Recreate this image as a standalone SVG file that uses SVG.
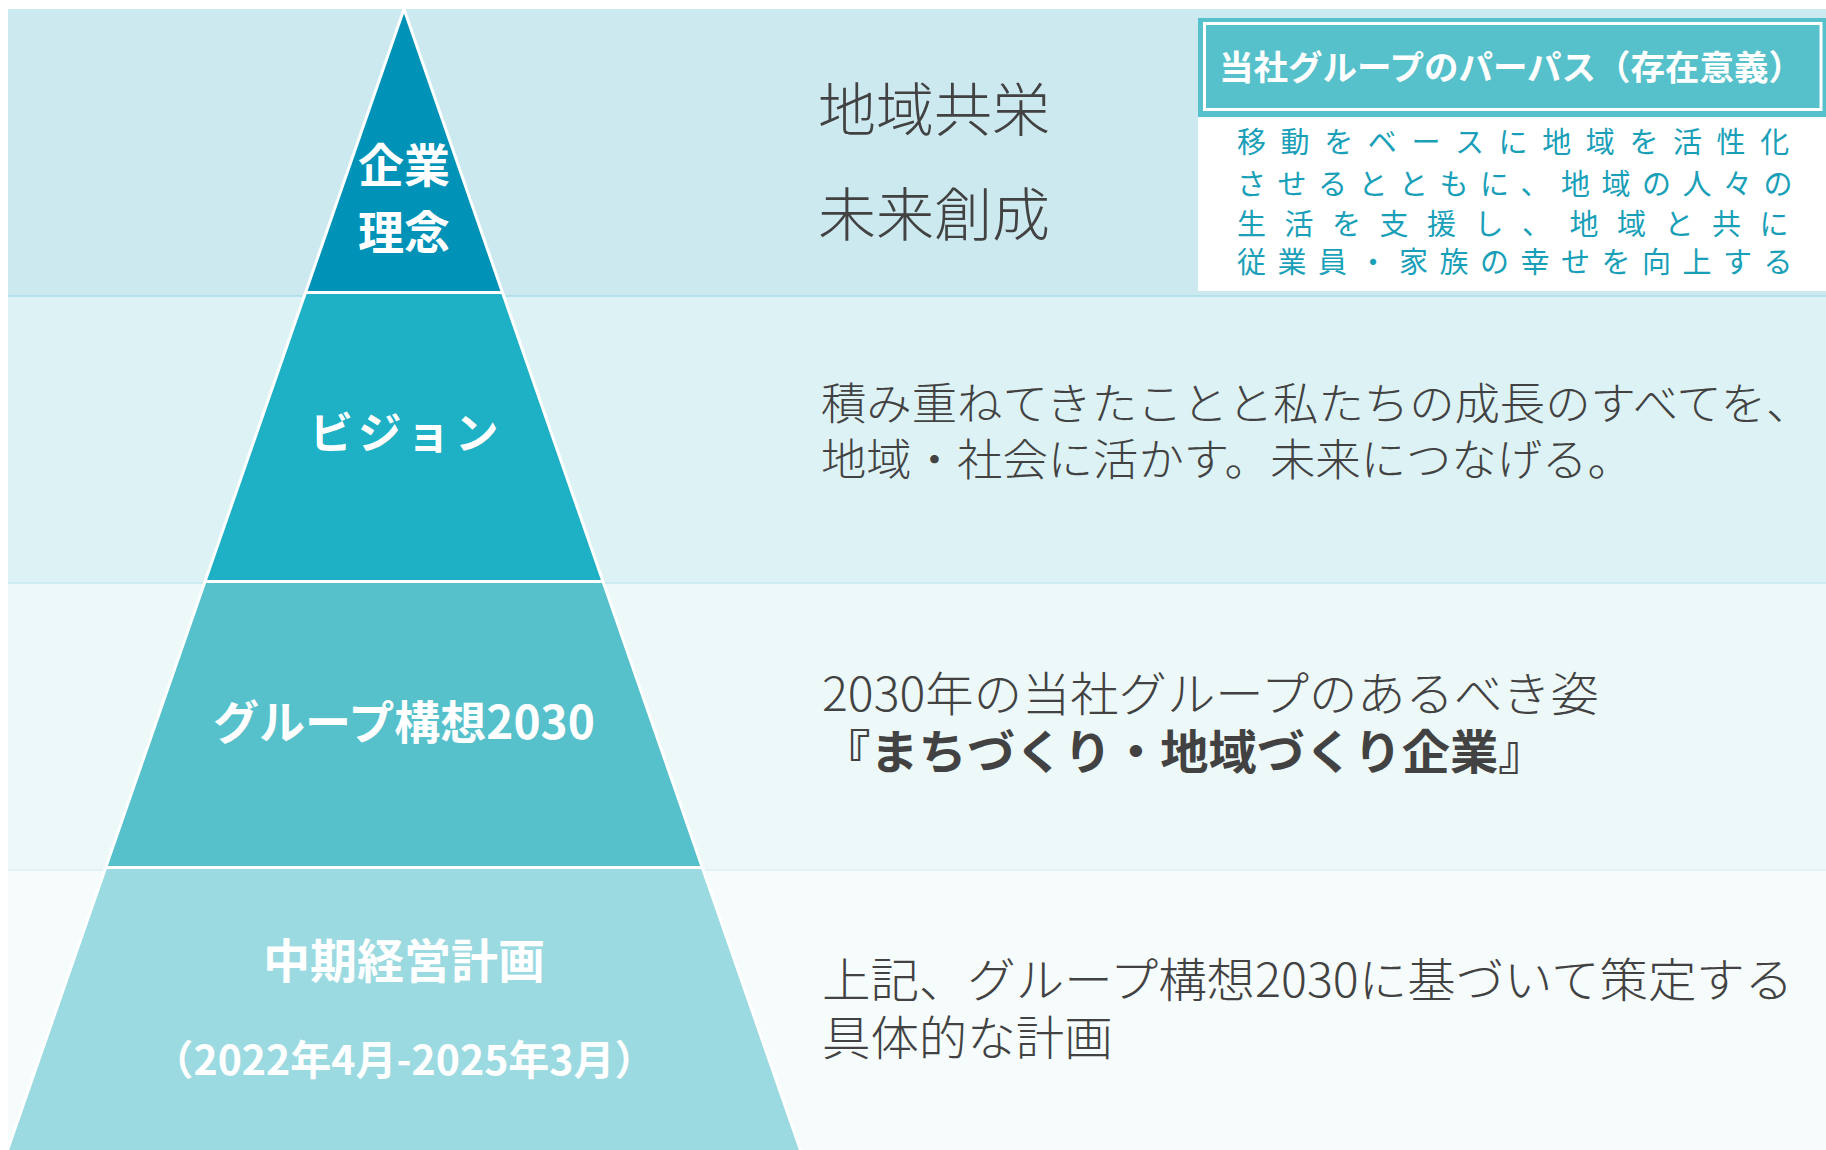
<svg xmlns="http://www.w3.org/2000/svg" width="1826" height="1150" viewBox="0 0 1826 1150">
<style>
.jp{font-family:"Noto Sans CJK JP","Noto Sans",sans-serif}
.lbl{fill:#ffffff;font-weight:700;text-anchor:middle}
.txt{fill:#424242;font-weight:300}
.pur{fill:#1a9fb8;font-size:29px;font-weight:400}
.tier{stroke:#ffffff;stroke-width:3;stroke-linejoin:round}
.sep{stroke-width:1.5}
</style>
<rect width="1826" height="1150" fill="#ffffff"/>
<g id="bands">
<rect x="8" y="9" width="1818" height="287" fill="#cce9ef"/>
<rect x="8" y="296" width="1818" height="287" fill="#ddf2f5"/>
<rect x="8" y="583" width="1818" height="287" fill="#edf8f9"/>
<rect x="8" y="870" width="1818" height="280" fill="#f6fbfc"/>
<line class="sep" x1="8" y1="296" x2="1826" y2="296" stroke="#a9dcea"/>
<line class="sep" x1="8" y1="583" x2="1826" y2="583" stroke="#c4e8ef"/>
<line class="sep" x1="8" y1="870" x2="1826" y2="870" stroke="#dcf0f4"/>
</g>
<g id="tier-1">
<polygon class="tier" points="404,9 502.5,292.5 305.5,292.5" fill="#0092b7"/>
<text class="jp lbl" x="404" y="182" font-size="46">企業</text>
<text class="jp lbl" x="404" y="249" font-size="46">理念</text>
</g>
<g id="tier-2">
<polygon class="tier" points="305.5,292.5 502.5,292.5 603,581.5 205,581.5" fill="#1eb0c4"/>
<text class="jp lbl" x="406.5" y="449" font-size="43.5" letter-spacing="5">ビジョン</text>
</g>
<g id="tier-3">
<polygon class="tier" points="205,581.5 603,581.5 702.3,867.5 105.7,867.5" fill="#57c1cb"/>
<text class="jp lbl" x="404" y="739" font-size="46">グループ構想2030</text>
</g>
<g id="tier-4">
<polygon class="tier" points="105.7,867.5 702.3,867.5 801.5,1153 6.5,1153" fill="#9bdae1"/>
<text class="jp lbl" x="404" y="978" font-size="47">中期経営計画</text>
<text class="jp lbl" x="404" y="1075" font-size="41">（2022年4月-2025年3月）</text>
</g>
<g id="row-1-text">
<text class="jp txt" x="818" y="131" font-size="58">地域共栄</text>
<text class="jp txt" x="818" y="236" font-size="58">未来創成</text>
</g>
<g id="purpose-box">
<rect x="1198" y="18" width="628" height="99" fill="#57c1cb"/>
<rect x="1204.5" y="23.5" width="616.5" height="86" fill="none" stroke="#ffffff" stroke-width="3"/>
<rect x="1198" y="117" width="628" height="174" fill="#ffffff"/>
<text class="jp" x="1219" y="80" font-size="34.5" font-weight="700" fill="#ffffff">当社グループのパーパス（存在意義）</text>
<text class="jp pur" x="1237 1280.6 1324.2 1367.8 1411.4 1455 1498.6 1542.2 1585.8 1629.4 1673 1716.6 1760.2" y="153">移動をベースに地域を活性化</text>
<text class="jp pur" x="1237 1277.5 1318 1358.5 1399 1439.5 1480 1520.5 1561 1601.5 1642 1682.5 1723 1763.5" y="195">させるとともに、地域の人々の</text>
<text class="jp pur" x="1237 1284.5 1332 1379.5 1427 1474.5 1522 1569.5 1617 1664.5 1712 1759.5" y="235">生活を支援し、地域と共に</text>
<text class="jp pur" x="1237 1277.5 1318 1358.5 1399 1439.5 1480 1520.5 1561 1601.5 1642 1682.5 1723 1763.5" y="273">従業員・家族の幸せを向上する</text>
</g>
<g id="row-2-text" transform="translate(821,0) scale(1.031,1) translate(-821,0)">
<text class="jp txt" x="821" y="420" font-size="44">積み重ねてきたことと私たちの成長のすべてを、</text>
<text class="jp txt" x="821" y="476" font-size="44">地域・社会に活かす。未来につなげる。</text>
</g>
<g id="row-3-text" transform="translate(822,0) scale(1.028,1) translate(-822,0)">
<text class="jp txt" x="822" y="711" font-size="47">2030年の当社グループのあるべき姿</text>
<text class="jp" x="822" y="769" font-size="47" font-weight="700" fill="#424242">『まちづくり・地域づくり企業』</text>
</g>
<g id="row-4-text" transform="translate(822,0) scale(1.031,1) translate(-822,0)">
<text class="jp txt" x="822" y="997" font-size="47">上記、グループ構想2030に基づいて策定する</text>
<text class="jp txt" x="822" y="1055" font-size="47">具体的な計画</text>
</g>
<g id="connectors"></g>
</svg>
